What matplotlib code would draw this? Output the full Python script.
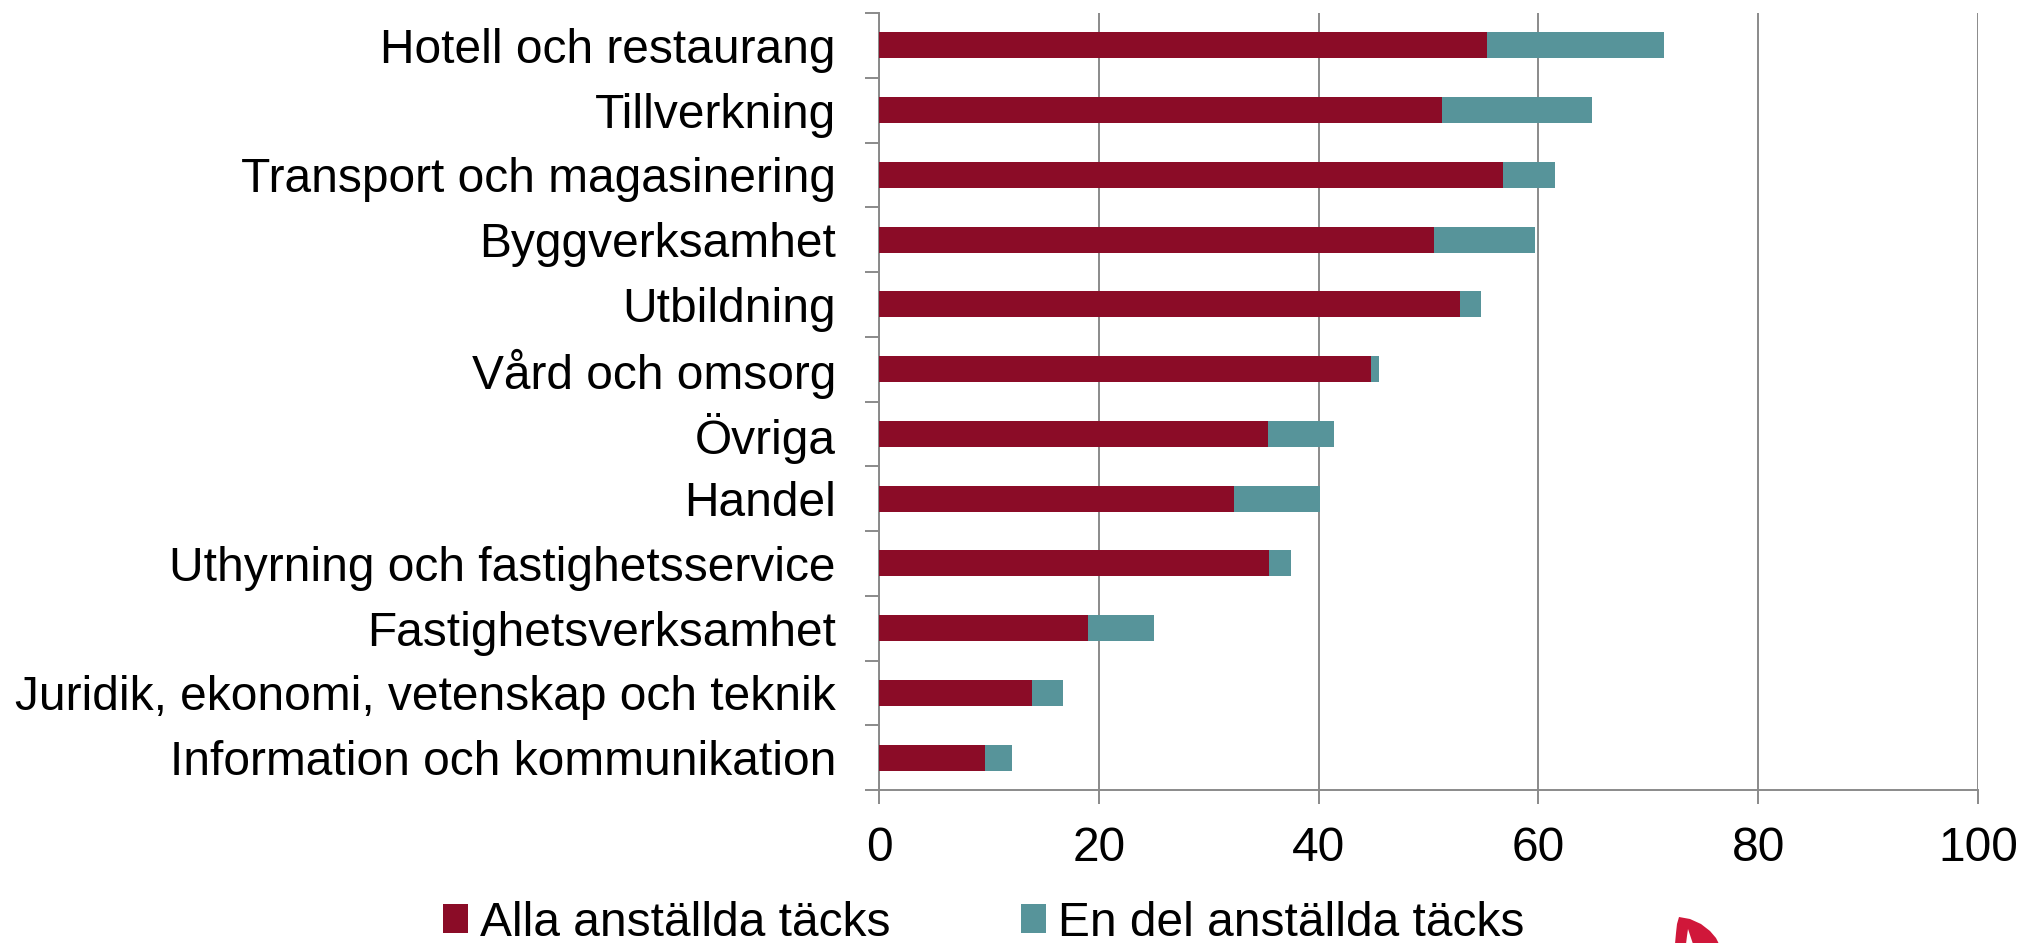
import matplotlib
matplotlib.use("Agg")
import matplotlib.pyplot as plt
from matplotlib.patches import Patch, Polygon
from matplotlib.ticker import FixedLocator
import numpy as np

plt.rcParams['font.family'] = ['Liberation Sans', 'DejaVu Sans']

categories = [
    "Hotell och restaurang",
    "Tillverkning",
    "Transport och magasinering",
    "Byggverksamhet",
    "Utbildning",
    "Vård och omsorg",
    "Övriga",
    "Handel",
    "Uthyrning och fastighetsservice",
    "Fastighetsverksamhet",
    "Juridik, ekonomi, vetenskap och teknik",
    "Information och kommunikation",
]
alla = [55.3, 51.2, 56.8, 50.5, 52.9, 44.8, 35.4, 32.3, 35.5, 19.0, 13.9, 9.6]
totals = [71.4, 64.9, 61.5, 59.7, 54.8, 45.5, 41.4, 40.1, 37.5, 25.0, 16.7, 12.1]
en_del = [t - a for t, a in zip(totals, alla)]
series_names = ["Alla anställda täcks", "En del anställda täcks"]
x_ticks = [0, 20, 40, 60, 80, 100]

RED = "#8B0C27"
TEAL = "#57949A"
GRID = "#8A8A8A"
FS = 34.5

W, H = 2027, 943
fig = plt.figure(figsize=(W / 100, H / 100), dpi=100)
ax = fig.add_axes([879 / W, 1 - 790 / H, (1978 - 879) / W, (790 - 13) / H])

y = np.arange(len(categories))
ax.barh(y, alla, height=0.4, color=RED, zorder=3)
ax.barh(y, en_del, left=alla, height=0.4, color=TEAL, zorder=3)

ax.set_xlim(0, 100)
ax.set_ylim(len(categories) - 0.5, -0.5)
ax.set_xticks(x_ticks)
ax.set_xticklabels([str(v) for v in x_ticks], fontsize=FS)
ax.set_yticks(y)
ax.set_yticklabels(categories, fontsize=FS)
ax.yaxis.set_minor_locator(FixedLocator(np.arange(-0.5, len(categories), 1.0)))

ax.tick_params(axis='y', which='major', length=0, pad=31)
ax.tick_params(axis='y', which='minor', length=10, width=1.4, color=GRID, direction='out')
ax.tick_params(axis='x', which='major', length=10, width=1.4, color=GRID, direction='out', pad=16)

ax.grid(axis='x', color=GRID, linewidth=1.4, zorder=0)
ax.set_axisbelow(True)
for s in ['top', 'right']:
    ax.spines[s].set_visible(False)
for s in ['left', 'bottom']:
    ax.spines[s].set_color(GRID)
    ax.spines[s].set_linewidth(1.4)

handles = [Patch(facecolor=RED), Patch(facecolor=TEAL)]
fig.legend(handles, series_names, loc='center left',
           bbox_to_anchor=(443 / W, 1 - 923 / H), ncol=2, frameon=False,
           fontsize=FS, handlelength=0.52, handleheight=0.53,
           handletextpad=0.25, columnspacing=2.72, borderpad=0, borderaxespad=0)

# partial logo leaf at the bottom edge
def px(pts):
    return [(xx / W, 1 - yy / H) for xx, yy in pts]

leaf = px([(1679, 917), (1690, 919), (1701, 924), (1710, 931), (1716, 938), (1719, 944),
           (1675, 944), (1676, 933), (1677, 924)])
notch = px([(1688, 929), (1690, 935), (1693, 944), (1686, 944), (1687, 936)])
fig.patches.append(Polygon(leaf, closed=True, facecolor="#D0173A", edgecolor='none',
                           transform=fig.transFigure, figure=fig))
fig.patches.append(Polygon(notch, closed=True, facecolor="white", edgecolor='none',
                           transform=fig.transFigure, figure=fig))

fig.savefig("out.png", dpi=100)
